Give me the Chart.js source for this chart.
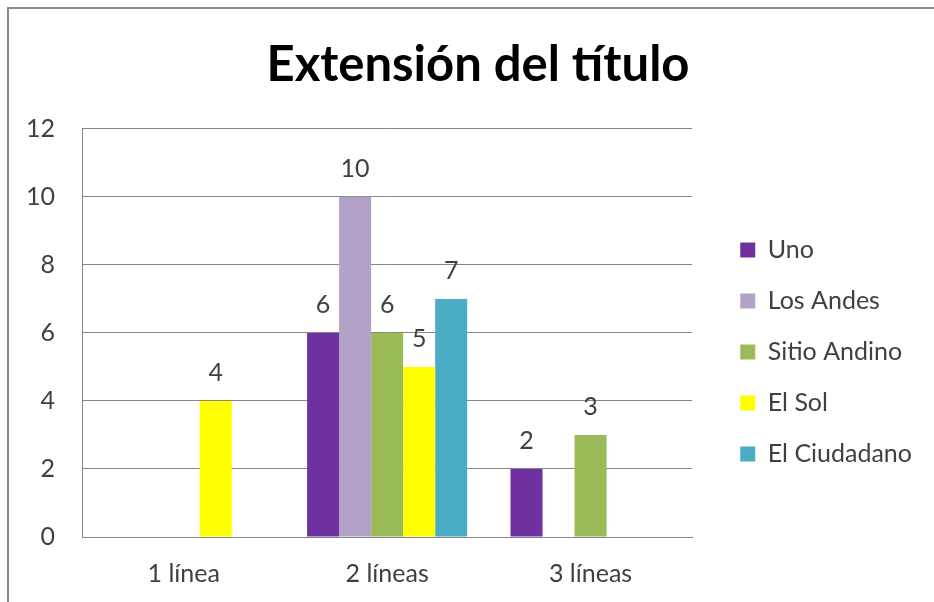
<!DOCTYPE html>
<html lang="es">

<head>
  <meta charset="UTF-8">
  <title>Extensión del título</title>
  <style>
    body { margin: 0; background: #fff; }
    .marco {
      position: relative;
      width: 934px;
      height: 602px;
      overflow: hidden;
    }
    .borde {
      position: absolute;
      left: 7px;
      top: 7px;
      width: 1000px;
      height: 700px;
      border: 2px solid #8a8a8a;
      box-sizing: border-box;
    }
    canvas { position: absolute; left: 0; top: 0; }
  </style>
</head>

<body>
  <div class="marco">
    <div class="borde"></div>
    <canvas id="chartExtension" width="934" height="602"></canvas>
  </div>

  <script src="https://cdn.jsdelivr.net/npm/chart.js"></script>
  <script>
    // datos
    var categorias = ['1 línea', '2 líneas', '3 líneas'];
    var diarios = ['Uno', 'Los Andes', 'Sitio Andino', 'El Sol', 'El Ciudadano'];
    var uno = [null, 6, 2];
    var losAndes = [null, 10, null];
    var sitioAndino = [null, 6, 3];
    var elSol = [4, 5, null];
    var elCiudadano = [null, 7, null];
    var colores = ['#7030A0', '#B3A2C7', '#9BBB59', '#FFFF00', '#4BACC6'];

    var fuente = 'Lato, "Open Sans", sans-serif';
    var colorTexto = '#404040';

    // etiquetas de valor encima de cada barra
    var etiquetasValor = {
      id: 'etiquetasValor',
      afterDatasetsDraw: function (chart) {
        var ctx = chart.ctx;
        ctx.save();
        ctx.font = '25px ' + fuente;
        ctx.fillStyle = colorTexto;
        ctx.textAlign = 'center';
        ctx.textBaseline = 'alphabetic';
        chart.data.datasets.forEach(function (ds, i) {
          var meta = chart.getDatasetMeta(i);
          meta.data.forEach(function (barra, j) {
            if (ds.data[j] == null) return;
            ctx.fillText(ds.data[j], barra.x, barra.y - 20);
          });
        });
        ctx.restore();
      }
    };

    // mueve la leyenda y el título como en la hoja de cálculo
    var ajusteCajas = {
      id: 'ajusteCajas',
      afterLayout: function (chart) {
        var ley = chart.legend;
        ley.left += 22; ley.right += 22;
        ley.top += 19; ley.bottom += 19;
        var tit = chart.titleBlock;
        tit.left += 28; tit.right += 28;
      }
    };

    var series = [uno, losAndes, sitioAndino, elSol, elCiudadano];
    var datasets = [];
    for (var i = 0; i < diarios.length; i++) {
      datasets.push({
        label: diarios[i],
        data: series[i],
        backgroundColor: colores[i],
        borderWidth: 0,
        categoryPercentage: 0.787,
        barPercentage: 1
      });
    }

    var canva = document.getElementById('chartExtension');
    var grafico = new Chart(canva, {
      type: 'bar',
      data: {
        labels: categorias,
        datasets: datasets
      },
      options: {
        responsive: false,
        animation: false,
        layout: {
          padding: { left: 0, right: 34, top: 0, bottom: 0 }
        },
        plugins: {
          title: {
            display: true,
            text: 'Extensión del título',
            color: '#000',
            font: { family: fuente, size: 49, weight: 'bold' },
            padding: { top: 36, bottom: 34 }
          },
          legend: {
            position: 'right',
            fullSize: false,
            labels: {
              boxWidth: 15,
              boxHeight: 15,
              padding: 26,
              color: colorTexto,
              font: { family: fuente, size: 25 }
            }
          },
          tooltip: { enabled: false }
        },
        scales: {
          x: {
            grid: { display: false, drawTicks: false },
            border: { color: '#868686', width: 1 },
            ticks: { color: colorTexto, font: { family: fuente, size: 25 }, padding: 22 },
            afterFit: function (s) { s.height = 65; }
          },
          y: {
            min: 0,
            max: 12,
            ticks: { stepSize: 2, color: colorTexto, font: { family: fuente, size: 25 }, padding: 27 },
            grid: { color: '#868686', drawTicks: false },
            border: { color: '#868686', width: 1 },
            afterFit: function (s) { s.width = 82; }
          }
        }
      },
      plugins: [etiquetasValor, ajusteCajas]
    });
  </script>
</body>

</html>
